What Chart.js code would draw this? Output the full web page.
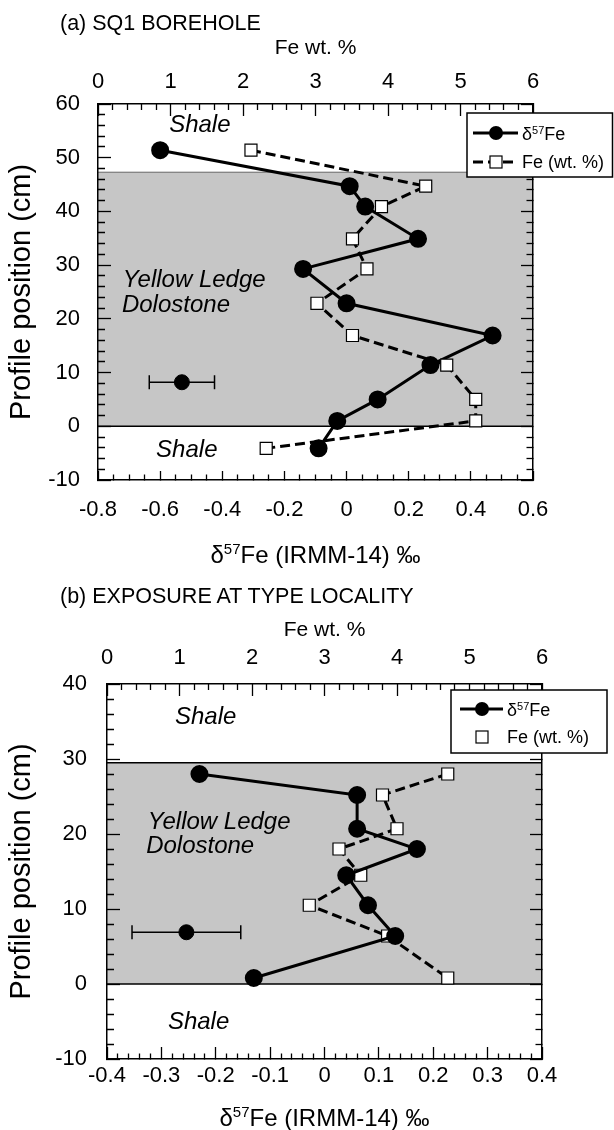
<!DOCTYPE html>
<html>
<head>
<meta charset="utf-8">
<script src="https://cdn.jsdelivr.net/npm/chart.js@4.4.1/dist/chart.umd.min.js"></script>
<style>
  body { margin:0; background:#fff; width:614px; height:1130px; overflow:hidden; position:relative; }
  canvas { position:absolute; left:0; }
  .ptitle { position:absolute; left:60px; font-size:21.5px; line-height:1; color:#000; white-space:nowrap;
            font-family:'Liberation Sans', Arial, Helvetica, sans-serif; }
</style>
</head>
<body>
<canvas id="chartA" width="614" height="580" style="top:0"></canvas>
<canvas id="chartB" width="614" height="556" style="top:580px"></canvas>
<div class="ptitle" style="top:13px">(a) SQ1 BOREHOLE</div>
<div class="ptitle" style="top:586px">(b) EXPOSURE AT TYPE LOCALITY</div>
<script>
const FONT = "'Liberation Sans', Arial, Helvetica, sans-serif";
Chart.defaults.font.family = FONT;
Chart.defaults.color = '#000';

// (a) SQ1 borehole
const posA   = [51.4, 44.7, 40.9, 34.9, 29.3, 22.9, 16.9, 11.4, 5.0, 1.0, -4.1];
const deltaA = [-0.60, 0.01, 0.06, 0.23, -0.14, 0.00, 0.47, 0.27, 0.10, -0.03, -0.09];
const feA    = [2.11, 4.52, 3.91, 3.51, 3.71, 3.02, 3.51, 4.81, 5.21, 5.21, 2.32];
const errPosA = [8.2];
const errDeltaA = [-0.53];
const errSizeA = [0.105];
const bandA = [0, 47.3];
const deltaTicksA = [-0.8, -0.6, -0.4, -0.2, 0, 0.2, 0.4, 0.6];
const posTicksA = [-10, 0, 10, 20, 30, 40, 50, 60];

// (b) exposure at type locality
const posB   = [28.0, 25.2, 20.7, 18.0, 14.5, 10.5, 6.4, 0.8];
const deltaB = [-0.23, 0.06, 0.06, 0.17, 0.04, 0.08, 0.13, -0.13];
const feB    = [4.70, 3.80, 4.00, 3.20, 3.50, 2.79, 3.87, 4.70];
const errPosB = [6.9];
const errDeltaB = [-0.254];
const errSizeB = [0.1];
const bandB = [0, 29.5];
const deltaTicksB = [-0.4, -0.3, -0.2, -0.1, 0, 0.1, 0.2, 0.3, 0.4];
const posTicksB = [-10, 0, 10, 20, 30, 40];

const feTicks = [0, 1, 2, 3, 4, 5, 6];
const seriesNames = ['δ57Fe', 'Fe (wt. %)'];
const xTitle = ['δ', '57', 'Fe (IRMM-14) ‰'];   // base, superscript, rest
const topTitle = 'Fe wt. %';
const yTitle = 'Profile position (cm)';

const pts = (xs, ys) => xs.map((v, i) => ({x: v, y: ys[i]}));
const isMajor = (v, list) => list.some(t => Math.abs(t - v) < 1e-6);
const fmt = v => Math.abs(v) < 1e-9 ? '0' : String(Number(v.toFixed(2)));

// text with a raised "57"
function supText(ctx, parts, x, y, size, align) {
  const big = size + 'px ' + FONT, small = Math.round(size * 0.62) + 'px ' + FONT;
  ctx.font = big; const w0 = ctx.measureText(parts[0]).width, w2 = ctx.measureText(parts[2]).width;
  ctx.font = small; const w1 = ctx.measureText(parts[1]).width;
  let cx = align === 'center' ? x - (w0 + w1 + w2) / 2 : x;
  ctx.textAlign = 'left'; ctx.textBaseline = 'alphabetic';
  const base = y + size * 0.36;
  ctx.font = big; ctx.fillText(parts[0], cx, base); cx += w0;
  ctx.font = small; ctx.fillText(parts[1], cx, base - size * 0.38); cx += w1;
  ctx.font = big; ctx.fillText(parts[2], cx, base);
}

// ticks point inward; minor ticks are cut short with a dash pattern
function axis(o) {
  const startsInside = o.position === 'left' || o.position === 'top';
  const minorDash = startsInside ? [0, o.major - o.minor, 100] : [o.minor, 100];
  return {
    type: 'linear', position: o.position, min: o.min, max: o.max,
    border: {display: true, color: '#000', width: 1.5},
    grid: {
      display: true, drawOnChartArea: false, drawTicks: true,
      tickLength: -o.major, tickWidth: 1.3, tickColor: '#000',
      tickBorderDash: c => (c.tick && isMajor(c.tick.value, o.labels)) ? [] : minorDash
    },
    ticks: {
      stepSize: o.step, autoSkip: false, maxRotation: 0, minRotation: 0,
      padding: o.pad || 0, font: {size: 22},
      callback: v => (o.showLabels && isMajor(v, o.labels)) ? fmt(v) : ''
    },
    title: o.title ? {display: true, text: o.title, font: {size: o.titleSize, lineHeight: 1},
                      padding: o.titlePad} : {display: false},
    afterFit: s => { if (s.isHorizontal()) s.height = o.size; else s.width = o.size; }
  };
}

function decor(p) {
  return {
    id: 'decor',
    beforeDraw(chart) {
      const {ctx, chartArea: a} = chart;
      const y = chart.scales.y;
      const yT = y.getPixelForValue(p.band[1]);
      const yB = y.getPixelForValue(p.band[0]);
      ctx.save();
      ctx.fillStyle = '#c6c6c6';
      ctx.fillRect(a.left, yT, a.right - a.left, yB - yT);
      ctx.strokeStyle = p.edgeColor; ctx.lineWidth = p.edgeWidth;
      ctx.beginPath(); ctx.moveTo(a.left, yT); ctx.lineTo(a.right, yT); ctx.stroke();
      ctx.strokeStyle = '#000'; ctx.lineWidth = 1.5;
      ctx.beginPath(); ctx.moveTo(a.left, yB); ctx.lineTo(a.right, yB); ctx.stroke();
      ctx.restore();
    },
    beforeDatasetsDraw(chart) {
      const {ctx} = chart;
      const x = chart.scales.x, y = chart.scales.y;
      ctx.save();
      ctx.font = 'italic 24px ' + FONT;
      ctx.fillStyle = '#000'; ctx.textAlign = 'left'; ctx.textBaseline = 'middle';
      p.notes.forEach(n => ctx.fillText(n.text, x.getPixelForValue(n.x), y.getPixelForValue(n.y)));
      ctx.restore();
    },
    afterDraw(chart) {
      const {ctx, chartArea: a} = chart;
      ctx.save();
      ctx.fillStyle = '#000';
      supText(ctx, xTitle, (a.left + a.right) / 2, p.xTitleY, 24, 'center');
      const L = p.legend;
      ctx.fillStyle = '#fff';
      ctx.fillRect(L.x, L.y, L.w, L.h);
      ctx.strokeStyle = '#000'; ctx.lineWidth = 1.5;
      ctx.strokeRect(L.x, L.y, L.w, L.h);
      L.rows.forEach((r, i) => {
        const ds = chart.data.datasets[i];
        if (r.line) {
          ctx.lineWidth = ds.borderWidth;
          ctx.setLineDash(ds.borderDash || []);
          ctx.beginPath(); ctx.moveTo(L.sx0, r.y); ctx.lineTo(L.sx1, r.y); ctx.stroke();
          ctx.setLineDash([]);
        }
        if (ds.pointStyle === 'rect') {
          ctx.fillStyle = '#fff'; ctx.lineWidth = 1.2;
          ctx.fillRect(L.mx - 6, r.y - 6, 12, 12);
          ctx.strokeRect(L.mx - 6, r.y - 6, 12, 12);
        } else {
          ctx.fillStyle = '#000';
          ctx.beginPath(); ctx.arc(L.mx, r.y, 7, 0, Math.PI * 2); ctx.fill();
        }
        ctx.fillStyle = '#000';
        if (i === 0) {
          supText(ctx, ['δ', '57', 'Fe'], L.tx, r.y + 1, 18, 'left');
        } else {
          ctx.font = '18px ' + FONT; ctx.textBaseline = 'middle'; ctx.textAlign = 'left';
          ctx.fillText(ds.label, L.tx, r.y + 1);
        }
      });
      ctx.restore();
    }
  };
}

function panel(canvasId, p) {
  const datasets = [
    {label: seriesNames[0], data: pts(p.delta, p.pos), xAxisID: 'x', yAxisID: 'y',
     showLine: true, borderColor: '#000', borderWidth: 3,
     pointRadius: 7.5, pointBackgroundColor: '#000', pointBorderColor: '#000', order: p.deltaOrder},
    {label: seriesNames[1], data: pts(p.fe, p.pos), xAxisID: 'x2', yAxisID: 'y',
     showLine: true, borderColor: '#000', borderWidth: 3, borderDash: [10, 5],
     pointStyle: 'rect', pointRadius: 8.5, pointBackgroundColor: '#fff',
     pointBorderColor: '#000', pointBorderWidth: 1.2, order: p.feOrder},
    {label: 'error', data: [{x: p.errDelta[0] - p.errSize[0], y: p.errPos[0]},
                            {x: p.errDelta[0] + p.errSize[0], y: p.errPos[0]}],
     xAxisID: 'x', yAxisID: 'y', showLine: true, borderColor: '#000', borderWidth: 1.5,
     pointStyle: 'line', pointRotation: 90, pointRadius: 7,
     pointBorderColor: '#000', pointBorderWidth: 1.5, order: 3},
    {label: 'error mean', data: [{x: p.errDelta[0], y: p.errPos[0]}], xAxisID: 'x', yAxisID: 'y',
     pointRadius: 7.5, pointBackgroundColor: '#000', pointBorderColor: '#000', order: 3}
  ];
  new Chart(document.getElementById(canvasId), {
    type: 'scatter',
    data: {datasets},
    options: {
      responsive: false, animation: false, events: [],
      layout: {padding: {left: 4, top: 30, right: 0, bottom: 0}},
      plugins: {legend: {display: false}, tooltip: {enabled: false}},
      scales: {
        x: axis({position: 'bottom', min: p.xMin, max: p.xMax, step: p.xStep, labels: p.xTicks,
                 showLabels: true, major: p.xMajor, minor: 6, pad: p.xPad, size: p.xSize}),
        x2: axis({position: 'top', min: 0, max: 6, step: 0.2, labels: feTicks, showLabels: true,
                  major: 12, minor: 6, pad: p.topPad, size: 74,
                  title: topTitle, titleSize: 21, titlePad: {top: p.topTitlePad, bottom: 0}}),
        y: axis({position: 'left', min: -10, max: p.yMax, step: 2, labels: p.yTicks, showLabels: true,
                 major: 13, minor: 7, pad: p.yPad, size: p.yWidth,
                 title: yTitle, titleSize: 29, titlePad: {top: 3.5, bottom: 0}}),
        y2: axis({position: 'right', min: -10, max: p.yMax, step: 2, labels: p.yTicks, showLabels: false,
                  major: 12, minor: 7, pad: 0, size: p.rightWidth})
      }
    },
    plugins: [decor(p)]
  });
}

panel('chartA', {
  pos: posA, delta: deltaA, fe: feA, errPos: errPosA, errDelta: errDeltaA, errSize: errSizeA,
  band: bandA, xTicks: deltaTicksA, yTicks: posTicksA,
  xMin: -0.8, xMax: 0.6, xStep: 0.05, yMax: 60,
  xMajor: 9, xPad: 25.8, xSize: 100, xTitleY: 554,
  topPad: 20.8, topTitlePad: 7.5, yPad: 31, yWidth: 94, rightWidth: 81,
  deltaOrder: 2, feOrder: 1, edgeColor: '#666', edgeWidth: 1,
  notes: [
    {text: 'Shale', x: -0.571, y: 56.1},
    {text: 'Yellow Ledge', x: -0.72, y: 27.2},
    {text: 'Dolostone', x: -0.723, y: 22.6},
    {text: 'Shale', x: -0.613, y: -4.4}
  ],
  legend: {x: 467, y: 113, w: 145.5, h: 64, sx0: 473, sx1: 518, mx: 496, tx: 522,
           rows: [{y: 133, line: true}, {y: 162, line: true}]}
});

panel('chartB', {
  pos: posB, delta: deltaB, fe: feB, errPos: errPosB, errDelta: errDeltaB, errSize: errSizeB,
  band: bandB, xTicks: deltaTicksB, yTicks: posTicksB,
  xMin: -0.4, xMax: 0.4, xStep: 0.02, yMax: 40,
  xMajor: 12, xPad: 15.8, xSize: 77, xTitleY: 537,
  topPad: 24.8, topTitlePad: 9.5, yPad: 33, yWidth: 103, rightWidth: 72,
  deltaOrder: 1, feOrder: 2, edgeColor: '#000', edgeWidth: 1.5,
  notes: [
    {text: 'Shale', x: -0.275, y: 35.6},
    {text: 'Yellow Ledge', x: -0.325, y: 21.6},
    {text: 'Dolostone', x: -0.328, y: 18.3},
    {text: 'Shale', x: -0.288, y: -5.1}
  ],
  legend: {x: 451, y: 110, w: 156, h: 63, sx0: 460, sx1: 503, mx: 482, tx: 507,
           rows: [{y: 129, line: true}, {y: 157, line: false}]}
});
</script>
</body>
</html>
